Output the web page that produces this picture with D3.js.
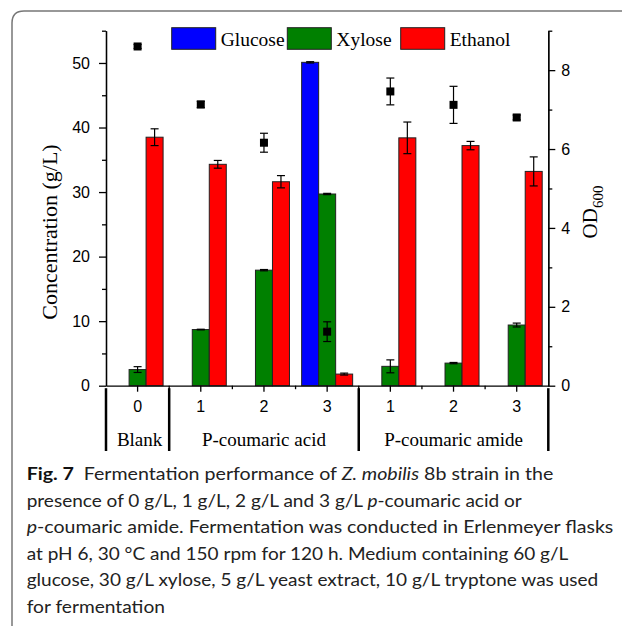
<!DOCTYPE html>
<html>
<head>
    <meta charset="utf-8">
    <script src="https://cdn.jsdelivr.net/npm/d3@7/dist/d3.min.js"></script>
    <style>
        body { margin: 0; background: #ffffff; }
        svg { display: block; }
    </style>
</head>
<body>
    <svg width="622" height="626" id="mainsvg"></svg>
    <script>
        // data
        const groupLabels = ['0', '1', '2', '3', '1', '2', '3'];
        const treatments = [
            { name: 'Blank', from: 0, to: 1 },
            { name: 'P-coumaric acid', from: 1, to: 4 },
            { name: 'P-coumaric amide', from: 4, to: 7 }
        ];
        const seriesNames = ['Glucose', 'Xylose', 'Ethanol'];
        const glucose = [0, 0, 0, 50.1, 0, 0, 0];
        const glucoseErr = [0, 0, 0, 0.1, 0, 0, 0];
        const xylose = [2.5, 8.7, 17.9, 29.7, 3.0, 3.5, 9.4];
        const xyloseErr = [0.45, 0.05, 0.1, 0.1, 1.0, 0.1, 0.3];
        const ethanol = [38.5, 34.3, 31.6, 1.8, 38.4, 37.2, 33.2];
        const ethanolErr = [1.3, 0.6, 0.95, 0.15, 2.45, 0.65, 2.25];
        const od600 = [8.6, 7.13, 6.16, 1.37, 7.46, 7.12, 6.8];
        const od600Err = [0.05, 0.08, 0.24, 0.25, 0.34, 0.47, 0.06];
        const leftTicks = [0, 10, 20, 30, 40, 50];
        const leftMinor = [5, 15, 25, 35, 45, 55];
        const rightTicks = [0, 2, 4, 6, 8];
        const rightMinor = [1, 3, 5, 7, 9];

        const color = { Glucose: '#0000ff', Xylose: '#008000', Ethanol: '#ff0000' };
        const serif = 'Liberation Serif, Times New Roman, serif';
        const sans = 'Liberation Sans, Arial, sans-serif';

        const svg = d3.select('#mainsvg');
        const plot = { left: 106, right: 548.3, top: 30.7, bottom: 385.7 };

        // panel border (only the top-left corner is inside the picture)
        svg.append('path')
            .attr('d', 'M12,640 L12,23 Q12,11 24,11 L640,11')
            .attr('fill', 'none')
            .attr('stroke', '#777')
            .attr('stroke-width', 1.5);

        const x = d3.scaleBand().domain(d3.range(groupLabels.length))
            .range([plot.left, plot.right]).padding(0);
        const xs = d3.scaleBand().domain(seriesNames).range([-25.5, 25.5]).padding(0);
        const y = d3.scaleLinear().domain([0, 55]).range([plot.bottom, plot.top]);
        const y2 = d3.scaleLinear().domain([0, 9]).range([plot.bottom, plot.top]);

        const values = { Glucose: glucose, Xylose: xylose, Ethanol: ethanol };
        const errors = { Glucose: glucoseErr, Xylose: xyloseErr, Ethanol: ethanolErr };

        // bars
        const bars = [];
        seriesNames.forEach(s => {
            values[s].forEach((v, i) => {
                if (v > 0) bars.push({ s: s, i: i, v: v, e: errors[s][i] });
            });
        });
        const cx = d => x(d.i) + x.bandwidth() / 2 + xs(d.s) + xs.bandwidth() / 2;

        svg.append('g').selectAll('rect').data(bars).join('rect')
            .attr('x', d => cx(d) - xs.bandwidth() / 2)
            .attr('width', xs.bandwidth())
            .attr('y', d => y(d.v))
            .attr('height', d => y(0) - y(d.v))
            .attr('fill', d => color[d.s])
            .attr('stroke', '#222')
            .attr('stroke-width', 1);

        // error bars for bars
        const drawErr = function (sel, data, xf, yf, vf, ef) {
            const g = sel.append('g').attr('stroke', '#000').attr('stroke-width', 1.2);
            data.forEach(d => {
                const xc = xf(d), y1 = yf(vf(d) - ef(d)), y2p = yf(vf(d) + ef(d));
                g.append('line').attr('x1', xc).attr('x2', xc).attr('y1', y1).attr('y2', y2p);
                g.append('line').attr('x1', xc - 4).attr('x2', xc + 4).attr('y1', y1).attr('y2', y1);
                g.append('line').attr('x1', xc - 4).attr('x2', xc + 4).attr('y1', y2p).attr('y2', y2p);
            });
        };
        drawErr(svg, bars, cx, y, d => d.v, d => d.e);

        // OD600 squares
        const odData = od600.map((v, i) => ({ i: i, v: v, e: od600Err[i] }));
        const ox = d => x(d.i) + x.bandwidth() / 2;
        drawErr(svg, odData, ox, y2, d => d.v, d => d.e);
        svg.append('g').selectAll('rect').data(odData).join('rect')
            .attr('x', d => ox(d) - 4)
            .attr('y', d => y2(d.v) - 4)
            .attr('width', 8)
            .attr('height', 8)
            .attr('fill', '#000');

        // axes
        const styleAxis = g => {
            g.attr('font-size', 16).attr('font-family', sans);
            g.selectAll('path, line').attr('stroke', '#000').attr('stroke-width', 1.3);
            g.selectAll('text').attr('fill', '#000');
        };
        svg.append('g').attr('transform', `translate(${plot.left},0)`)
            .call(d3.axisLeft(y).tickValues(leftTicks).tickSize(7).tickSizeOuter(0).tickPadding(9))
            .call(styleAxis);
        svg.append('g').attr('transform', `translate(${plot.left},0)`)
            .call(d3.axisLeft(y).tickValues(leftMinor).tickSize(4).tickSizeOuter(0).tickFormat(''))
            .call(styleAxis);
        svg.append('g').attr('transform', `translate(${plot.right},0)`)
            .call(d3.axisRight(y2).tickValues(rightTicks).tickSize(7).tickSizeOuter(0).tickPadding(6))
            .call(styleAxis);
        svg.append('g').attr('transform', `translate(${plot.right},0)`)
            .call(d3.axisRight(y2).tickValues(rightMinor).tickSize(4).tickSizeOuter(0).tickFormat(''))
            .call(styleAxis);
        const xAxisG = svg.append('g').attr('transform', `translate(0,${plot.bottom})`)
            .call(d3.axisBottom(x).tickSize(6).tickSizeOuter(0).tickPadding(9).tickFormat(i => groupLabels[i]))
            .call(styleAxis);
        xAxisG.selectAll('.minor').data(d3.range(1, groupLabels.length)).join('line')
            .attr('class', 'minor')
            .attr('x1', i => x(i)).attr('x2', i => x(i))
            .attr('y1', 0).attr('y2', 3.5)
            .attr('stroke', '#000').attr('stroke-width', 1.3);

        // treatment separators and labels
        const sepX = [0].concat(treatments.map(t => t.to));
        svg.append('g').selectAll('line').data(treatments.map(t => t.from).concat([groupLabels.length])).join('line')
            .attr('x1', i => i === groupLabels.length ? plot.right : x(i))
            .attr('x2', i => i === groupLabels.length ? plot.right : x(i))
            .attr('y1', plot.bottom + 2.5)
            .attr('y2', 451)
            .attr('stroke', '#000')
            .attr('stroke-width', 2.5);
        svg.append('g').selectAll('text').data(treatments).join('text')
            .attr('x', t => (x(t.from) + x(t.to - 1) + x.bandwidth()) / 2 + (t.from === 0 ? 2 : 0))
            .attr('y', 446)
            .attr('text-anchor', 'middle')
            .attr('font-family', serif)
            .attr('font-size', 19)
            .attr('fill', '#000')
            .text(t => t.name);

        // axis titles
        svg.append('text')
            .attr('transform', 'translate(57,232) rotate(-90)')
            .attr('text-anchor', 'middle')
            .attr('font-family', serif)
            .attr('font-size', 22)
            .attr('fill', '#000')
            .text('Concentration (g/L)');
        const odTitle = svg.append('text')
            .attr('transform', 'translate(597,212) rotate(-90)')
            .attr('text-anchor', 'middle')
            .attr('font-family', serif)
            .attr('font-size', 21)
            .attr('fill', '#000');
        odTitle.append('tspan').text('OD');
        odTitle.append('tspan').attr('font-size', 15).attr('dy', 6).text('600');

        // legend
        const legendX = [171.7, 287.3, 400.7];
        const legend = svg.append('g').selectAll('g').data(seriesNames).join('g')
            .attr('transform', (d, i) => `translate(${legendX[i]},27.7)`);
        legend.append('rect')
            .attr('width', 44).attr('height', 21.6)
            .attr('fill', d => color[d])
            .attr('stroke', '#222').attr('stroke-width', 1);
        legend.append('text')
            .attr('x', 49).attr('y', 18)
            .attr('font-family', serif)
            .attr('font-size', 19.5)
            .attr('fill', '#000')
            .text(d => d);

        // caption
        const captionLines = [
            { w: 526.6, parts: [['Fig. 7', 'b'], ['\u2002Fermentation performance of ', ''], ['Z. mobilis', 'i'], [' 8b strain in the', '']] },
            { w: 495, parts: [['presence of 0 g/L, 1 g/L, 2 g/L and 3 g/L ', ''], ['p', 'i'], ['-coumaric acid or', '']] },
            { w: 586.6, parts: [['p', 'i'], ['-coumaric amide. Fermentation was conducted in Erlenmeyer flasks', '']] },
            { w: 541.6, parts: [['at pH 6, 30 \u00b0C and 150 rpm for 120 h. Medium containing 60 g/L', '']] },
            { w: 571.6, parts: [['glucose, 30 g/L xylose, 5 g/L yeast extract, 10 g/L tryptone was used', '']] },
            { w: 138.3, parts: [['for fermentation', '']] }
        ];
        const cap = svg.append('g').attr('font-family', 'Lato, Open Sans, sans-serif').attr('font-size', 16.5).attr('fill', '#222');
        captionLines.forEach((line, k) => {
            const t = cap.append('text')
                .attr('x', 26.7)
                .attr('y', 480 + k * 26.6)
                .attr('xml:space', 'preserve')
                .style('white-space', 'pre');
            line.parts.forEach(p => {
                const ts = t.append('tspan').text(p[0]);
                if (p[1] === 'b') ts.attr('font-weight', 'bold').attr('fill', '#111');
                if (p[1] === 'i') ts.attr('font-style', 'italic');
            });
            t.attr('textLength', line.w).attr('lengthAdjust', 'spacingAndGlyphs');
        });
    </script>
</body>
</html>
